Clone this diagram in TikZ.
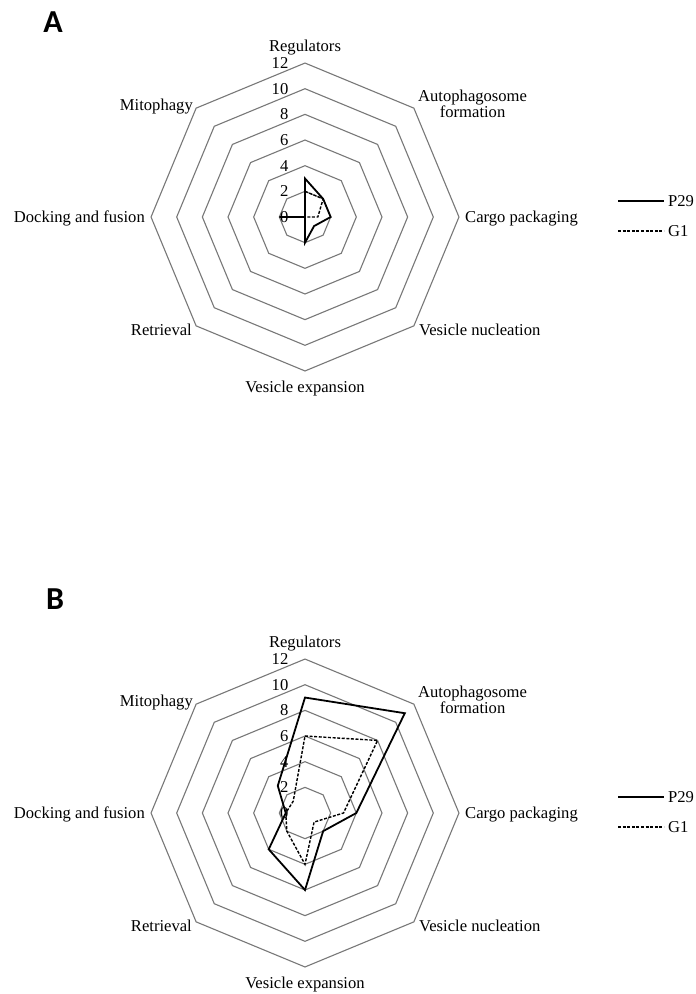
\documentclass[tikz,border=0pt]{standalone}
\usepackage{fontspec}
\setmainfont{Liberation Serif}
\newfontfamily\panelfont{Carlito}
\definecolor{gridgray}{RGB}{120,120,120}
\tikzset{
  gridline/.style={draw=gridgray, line width=1.1pt, line join=miter},
  p29line/.style={draw=black, line width=1.8pt, line join=miter},
  g1line/.style={draw=black, line width=1.4pt, dash pattern=on 3pt off 1.6pt},
  axlabel/.style={font=\fontsize{16.6}{16.6}\selectfont, inner sep=0pt},
  numlabel/.style={font=\fontsize{16.6}{16.6}\selectfont, inner sep=0pt, anchor=east},
  panellabel/.style={font=\panelfont\bfseries\fontsize{32}{32}\selectfont, inner sep=0pt},
}
\newcommand\drawradar[4]{%
\begin{scope}[shift={(305,#2)}]
  \foreach \v in {2,4,...,12}{
    \pgfmathsetmacro\rr{12.83*\v}
    \draw[gridline] (0,-\rr) \foreach \k in {1,...,7}{ -- ({\rr*sin(45*\k)},{-\rr*cos(45*\k)}) } -- cycle;
  }
  \foreach \v in {0,2,...,12}{
    \node[numlabel] (#1n\v) at (-16.5,{-12.83*\v}) {\v};
  }
  \foreach \val [count=\k from 0] in {#3}{
    \coordinate (#1p\k) at ({12.83*\val*sin(45*\k)},{-12.83*\val*cos(45*\k)});
  }
  \foreach \val [count=\k from 0] in {#4}{
    \coordinate (#1g\k) at ({12.83*\val*sin(45*\k)},{-12.83*\val*cos(45*\k)});
  }
  \draw[g1line] (#1g0) -- (#1g1) -- (#1g2) -- (#1g3) -- (#1g4) -- (#1g5) -- (#1g6) -- (#1g7) -- cycle;
  \draw[p29line] (#1p0) -- (#1p1) -- (#1p2) -- (#1p3) -- (#1p4) -- (#1p5) -- (#1p6) -- (#1p7) -- cycle;
  \node[axlabel, anchor=base] (#1reg) at (0,-165.5) {Regulators};
  \node[axlabel, anchor=west, align=center] (#1aut) at (113,-113) {Autophagosome\\formation};
  \node[axlabel, anchor=base west] (#1car) at (160,5.5) {Cargo packaging};
  \node[axlabel, anchor=base west] (#1vnu) at (114,118.5) {Vesicle nucleation};
  \node[axlabel, anchor=base] (#1vex) at (0,175) {Vesicle expansion};
  \node[axlabel, anchor=base east] (#1ret) at (-113,118.5) {Retrieval};
  \node[axlabel, anchor=base east] (#1doc) at (-160,5.5) {Docking and fusion};
  \node[axlabel, anchor=base east] (#1mit) at (-112,-106.5) {Mitophagy};
  \coordinate (#1la) at (313,-16);
  \coordinate (#1lb) at (359,-16);
  \coordinate (#1lc) at (313,14);
  \coordinate (#1ld) at (359,14);
  \draw[p29line] (#1la) -- (#1lb);
  \draw[g1line] (#1lc) -- (#1ld);
  \node[axlabel, anchor=west] (#1lp) at (363,-16) {P29};
  \node[axlabel, anchor=west] (#1lg) at (363,14) {G1};
\end{scope}}
\begin{document}
\begin{tikzpicture}[x=1pt,y=-1pt]
  \useasboundingbox (0,0) rectangle (696,994);
  \fill[white] (0,0) rectangle (696,994);
  \node[panellabel] (panA) at (53,22.5) {A};
  \node[panellabel] (panB) at (55,599) {B};
  \drawradar{A}{217}{3,2,2,1,2,0,2,0}{2,2,1,0,0,0,0,0}
  \drawradar{B}{813}{9,11,4,2,6,4,1.5,3}{6,8,3,1,4,2,1.5,1.3}
\end{tikzpicture}
\end{document}
